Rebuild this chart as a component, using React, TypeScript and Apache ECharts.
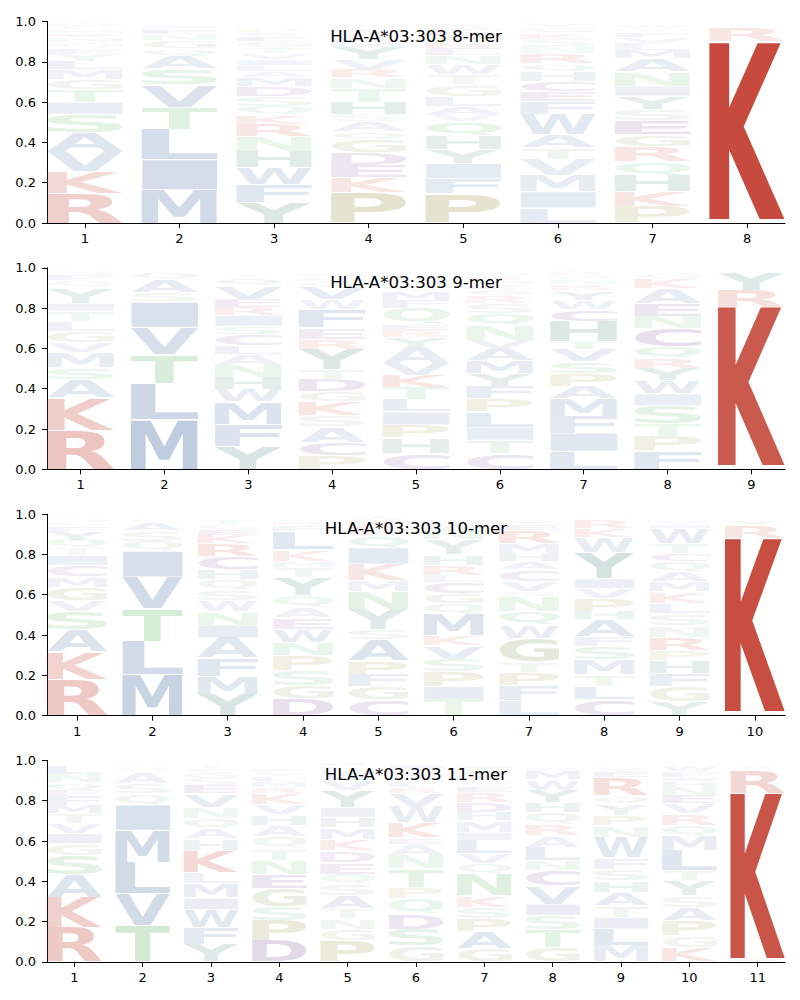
import React, { useEffect, useRef } from "react";
import * as echarts from "echarts";

// ---------- DATA ----------
const titles = ["HLA-A*03:303 8-mer", "HLA-A*03:303 9-mer", "HLA-A*03:303 10-mer", "HLA-A*03:303 11-mer"];
const yTicks = [0, 0.2, 0.4, 0.6, 0.8, 1.0];

// each string = one position, letters from bottom to top with their heights
const mer8: string[] = [
  "R.145 K.11 V.10 A.095 S.09 I.06 T.06 G.05 M.05 L.04 Y.035 F.03 Q.03 N.025 E.02 H.02 C.015 D.015",
  "M.165 I.15 L.15 T.11 V.11 S.08 A.06 Q.04 G.04 N.03 E.025 F.02",
  "Y.10 F.09 W.085 H.08 N.075 R.06 K.045 Q.045 S.05 D.05 M.04 A.03 L.03 I.03 V.03 T.03 G.03 E.025 C.02 P.015",
  "P.15 K.075 E.06 D.065 G.065 Q.04 A.05 S.035 H.06 T.07 N.05 R.04 V.05 Y.06 M.03 L.025 F.02 I.02 W.015 C.01",
  "P.145 F.075 I.075 Y.07 H.07 Q.07 V.035 A.04 L.05 G.055 T.05 W.05 N.045 E.035 R.03 S.03 D.025 M.02 K.015 C.01",
  "L.075 I.08 M.08 V.08 T.058 A.065 W.10 F.065 E.05 C.05 H.05 Q.04 R.05 N.035 S.035 K.03 G.025 Y.02 D.01",
  "P.08 K.075 H.08 Q.07 R.075 G.06 E.07 S.055 Y.065 I.05 N.07 A.065 M.04 L.035 V.03 F.025 T.02 W.015",
  "D.02 K.88 R.07",
];
const mer9: string[] = [
  "R.195 K.16 A.09 S.06 M.075 V.05 G.055 L.05 T.05 I.04 Y.075 Q.035 F.03 N.015",
  "M.245 L.18 T.145 V.135 I.125 S.045 A.065 Q.04",
  "Y.115 F.11 M.11 W.06 H.06 N.06 A.055 L.045 C.055 S.04 I.055 R.04 E.04 V.065 Q.04 T.015",
  "P.07 C.065 A.075 S.055 K.07 G.05 D.06 T.05 Y.10 R.05 E.058 F.09 W.05 V.06 Q.03 L.02 N.02",
  "C.08 H.075 P.065 I.065 L.06 T.06 K.06 V.06 A.08 Y.05 R.035 E.03 Q.08 F.04 M.04 S.025 N.02 G.015 D.02 W.015",
  "C.08 T.065 I.065 L.075 P.065 F.06 Y.065 M.065 A.06 V.04 N.075 Q.06 S.05 R.035 G.03 E.025 H.02 K.02 W.015 D.01",
  "L.09 I.09 F.085 M.085 A.06 P.065 S.06 V.06 T.04 H.10 C.06 W.045 Y.045 R.03 N.025 Q.02 K.015 E.01",
  "F.09 P.075 T.06 S.09 I.06 W.065 Y.06 R.05 Q.06 C.09 N.06 E.06 A.075 K.05 G.025",
  "D.02 K.785 R.085 Y.09",
];
const mer10: string[] = [
  "R.18 K.135 A.11 S.09 V.058 G.065 M.05 C.058 I.05 T.035 Q.04 Y.04 F.03 L.02 N.015",
  "M.205 L.165 T.16 V.158 I.128 Q.05 S.05 A.04 G.015",
  "Y.105 M.09 F.09 A.10 I.065 N.065 W.058 S.05 Q.05 H.05 C.065 R.065 K.04 E.03 G.025 T.025",
  "D.085 G.065 S.075 P.075 N.065 W.065 E.058 A.05 Q.058 Y.09 T.05 M.03 K.058 L.09 F.03 R.02 I.01",
  "C.08 G.065 F.06 P.065 A.105 S.05 Y.10 N.09 M.058 K.08 I.08 Q.06 E.03 R.025 L.02 W.015 T.01",
  "T.08 I.065 P.073 S.063 V.065 K.05 M.108 Q.05 G.05 C.058 L.035 R.05 H.05 Y.075 N.04 W.035 F.02",
  "L.075 F.075 P.065 T.05 G.12 W.065 Q.065 N.075 S.025 V.05 C.058 A.04 H.04 M.05 R.065 E.03 Y.02",
  "C.08 L.065 T.058 M.075 S.065 F.05 A.083 H.04 P.063 V.05 I.05 Y.13 W.075 K.045 R.04 N.01",
  "Y.07 G.075 F.065 H.065 P.05 R.065 N.058 S.058 L.05 K.058 M.05 A.05 Q.05 C.04 T.05 W.075 I.02 V.02",
  "D.02 K.86 R.065 Y.025",
];
const mer11: string[] = [
  "R.17 K.15 A.113 S.096 G.058 I.05 V.05 T.05 M.04 F.04 E.035 Q.04 N.04 L.04",
  "T.18 V.158 L.158 M.158 I.125 Q.055 S.05 A.058 G.015 N.015",
  "Y.088 F.083 W.088 I.058 M.07 L.058 K.108 H.058 A.05 Q.05 N.058 V.065 E.04 S.035 G.03 C.02 T.015",
  "D.105 P.10 S.07 G.09 E.07 N.07 T.058 Q.058 A.058 H.05 V.05 K.058 R.03 M.03 L.025 Y.02 F.02 W.01",
  "P.105 G.058 N.05 T.05 A.065 S.058 Q.05 E.058 D.058 K.058 M.058 H.05 I.05 Y.083 V.05 W.04 L.03 R.02",
  "G.08 S.083 D.075 Q.075 P.058 T.09 N.066 A.058 E.03 K.075 W.08 V.065 R.03 L.025 M.02 Y.03 F.02 I.02",
  "G.065 A.083 P.066 S.058 K.058 N.108 Q.05 V.05 L.066 I.04 M.058 H.04 D.05 R.05 E.03 W.02 F.015 Y.035 T.03",
  "G.07 T.09 S.07 I.058 V.09 C.075 N.05 L.066 A.058 R.058 Q.058 H.05 Y.06 W.05 M.04 F.02",
  "M.08 L.083 I.058 T.058 A.066 H.058 S.058 F.058 W.10 N.058 P.05 Y.058 Q.04 R.09 E.03 V.02 K.01",
  "K.07 G.058 P.075 A.066 S.058 Y.075 T.05 L.10 M.075 Q.05 R.058 V.05 E.04 N.04 H.03 I.02 F.03 W.03",
  "D.02 K.817 R.116 Y.02",
];

const panels = [mer8, mer9, mer10, mer11];

// ---------- STYLE ----------
const RED = "#c0392b";
const BLUE = "#4a6fa5";
const GREEN = "#5ab464";
const GOLIVE = "#7a9a50";
const OLIVE = "#8c8c32";
const PURPLE = "#6e3c8c";
const TEAL = "#3c7d6e";
const COLORS: Record<string, string> = {
  K: RED, R: RED,
  M: BLUE, L: BLUE, V: BLUE, I: BLUE, A: BLUE, F: BLUE, W: BLUE,
  T: GREEN, S: GREEN, N: GREEN, Q: GREEN,
  G: GOLIVE, P: OLIVE,
  D: PURPLE, E: PURPLE, C: PURPLE,
  Y: TEAL, H: TEAL,
};

const FONT_FAMILY = "DejaVu Sans";
const GLYPH_SIZE = 100;
// vertical offset (in glyph px at GLYPH_SIZE) between canvas "middle" and svg "central" baselines
const BASELINE_FIX = 8.4;

function rgba(hex: string, a: number) {
  const r = parseInt(hex.slice(1, 3), 16);
  const g = parseInt(hex.slice(3, 5), 16);
  const b = parseInt(hex.slice(5, 7), 16);
  return `rgba(${r},${g},${b},${a.toFixed(3)})`;
}

type Metric = { left: number; right: number; asc: number; desc: number };
const metricCache: Record<string, Metric> = {};
function glyphMetric(ch: string): Metric {
  if (metricCache[ch]) return metricCache[ch];
  const c = document.createElement("canvas");
  const ctx = c.getContext("2d")!;
  ctx.font = `bold ${GLYPH_SIZE}px "${FONT_FAMILY}"`;
  ctx.textBaseline = "middle";
  ctx.textAlign = "left";
  const m = ctx.measureText(ch);
  const res = {
    left: m.actualBoundingBoxLeft,
    right: m.actualBoundingBoxRight,
    asc: m.actualBoundingBoxAscent,
    desc: m.actualBoundingBoxDescent,
  };
  metricCache[ch] = res;
  return res;
}

type Item = { x: number; y0: number; y1: number; letter: string; color: string };

function buildItems(positions: string[]): Item[] {
  const out: Item[] = [];
  positions.forEach((s, i) => {
    let base = 0;
    s.trim().split(/\s+/).forEach((tok) => {
      const letter = tok[0];
      const h = parseFloat(tok.slice(1));
      const alpha = Math.min(1, Math.pow(h, 0.75));
      out.push({ x: i + 1, y0: base, y1: base + h, letter, color: rgba(COLORS[letter] || "#888888", alpha) });
      base += h;
    });
  });
  return out;
}

const GRID_LEFT = 47;
const GRID_WIDTH = 738;
const GRID_TOP0 = 21.5;
const GRID_STEP = 246.3;
const GRID_HEIGHT = 201.5;
const HALF_W = 0.4;
const VPAD = 0.0025;

export default function App() {
  const ref = useRef<HTMLDivElement>(null);
  useEffect(() => {
    document.body.style.margin = "0";
    if (!ref.current) return;
    const chart = echarts.init(ref.current, null, { renderer: "svg" });

    const grids: any[] = [];
    const xAxes: any[] = [];
    const yAxes: any[] = [];
    const series: any[] = [];
    const graphics: any[] = [];

    panels.forEach((pos, pi) => {
      const n = pos.length;
      const top = GRID_TOP0 + pi * GRID_STEP;
      grids.push({ left: GRID_LEFT, width: GRID_WIDTH, top, height: GRID_HEIGHT });
      const ticks = pos.map((_, i) => i + 1);
      xAxes.push({
        type: "value",
        gridIndex: pi,
        min: 1 - 0.4,
        max: n + 0.4,
        splitLine: { show: false },
        axisLine: { show: true, onZero: false, lineStyle: { color: "#000", width: 1 } },
        axisTick: { show: true, customValues: ticks, length: 5, lineStyle: { color: "#000", width: 1 } },
        axisLabel: {
          customValues: ticks,
          color: "#000",
          fontSize: 13,
          fontFamily: FONT_FAMILY,
          margin: 9,
          formatter: (v: number) => String(Math.round(v)),
        },
      });
      yAxes.push({
        type: "value",
        gridIndex: pi,
        min: 0,
        max: 1,
        interval: 0.2,
        splitLine: { show: false },
        axisLine: { show: true, onZero: false, lineStyle: { color: "#000", width: 1 } },
        axisTick: { show: true, length: 5, lineStyle: { color: "#000", width: 1 } },
        axisLabel: {
          color: "#000",
          fontSize: 13,
          fontFamily: FONT_FAMILY,
          margin: 11,
          formatter: (v: number) => v.toFixed(1),
        },
      });
      const items = buildItems(pos);
      series.push({
        type: "custom",
        xAxisIndex: pi,
        yAxisIndex: pi,
        clip: false,
        silent: true,
        data: items.map((it) => [it.x, it.y0, it.y1]),
        renderItem: (params: any, api: any) => {
          const it = items[params.dataIndex];
          const p0 = api.coord([it.x - HALF_W, it.y0 + VPAD]);
          const p1 = api.coord([it.x + HALF_W, it.y1 - VPAD]);
          const w = p1[0] - p0[0];
          const h = p0[1] - p1[1];
          if (h <= 0.3 || w <= 0) return null;
          const gm = glyphMetric(it.letter);
          const sx = w / (gm.left + gm.right);
          const sy = h / (gm.asc + gm.desc);
          return {
            type: "text",
            x: p0[0] + gm.left * sx,
            y: p1[1] + (gm.asc - BASELINE_FIX) * sy,
            scaleX: sx,
            scaleY: sy,
            silent: true,
            style: {
              text: it.letter,
              x: 0,
              y: 0,
              fill: it.color,
              font: `bold ${GLYPH_SIZE}px "${FONT_FAMILY}"`,
              fontSize: GLYPH_SIZE,
              fontWeight: "bold",
              fontFamily: FONT_FAMILY,
              align: "left",
              verticalAlign: "middle",
              textAlign: "left",
              textVerticalAlign: "middle",
            },
          };
        },
      });
      graphics.push({
        type: "text",
        x: GRID_LEFT + GRID_WIDTH / 2,
        y: top + 14.5,
        silent: true,
        style: {
          text: titles[pi],
          fill: "#000",
          font: `16.6px "${FONT_FAMILY}"`,
          fontSize: 16.6,
          fontFamily: FONT_FAMILY,
          align: "center",
          verticalAlign: "middle",
          textAlign: "center",
          textVerticalAlign: "middle",
        },
      });
    });

    chart.setOption({
      animation: false,
      backgroundColor: "#ffffff",
      grid: grids,
      xAxis: xAxes,
      yAxis: yAxes,
      series,
      graphic: graphics,
    });

    return () => {
      chart.dispose();
    };
  }, []);

  return <div ref={ref} style={{ width: 800, height: 1000 }} />;
}
